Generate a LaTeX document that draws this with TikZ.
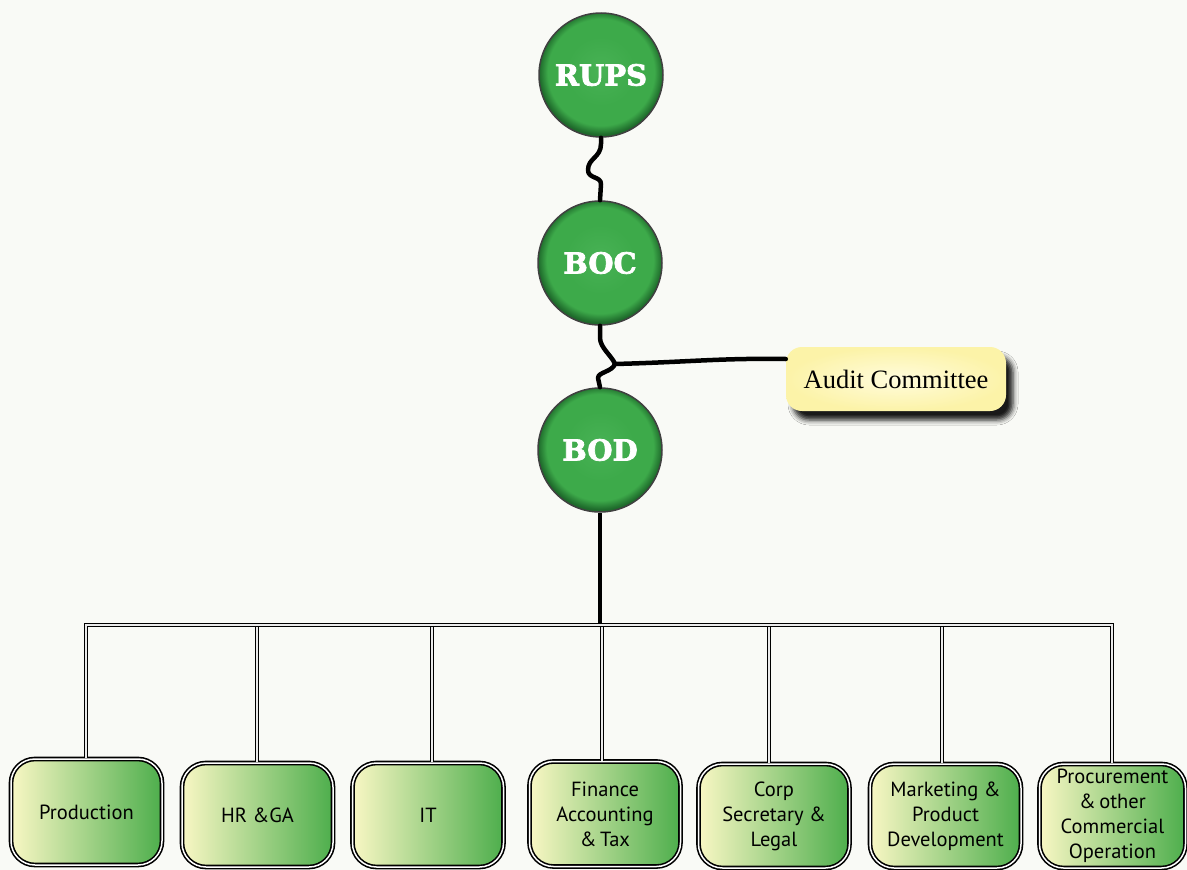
\documentclass[tikz,border=0pt]{standalone}
\usepackage{fontspec}
\setmainfont{Liberation Serif}
\newfontfamily\boxfont{PT Sans}
\newfontfamily\circfont{DejaVu Serif}[BoldFeatures={FakeBold=2.5}]
\usetikzlibrary{shadows.blur}

\definecolor{bg}{HTML}{F9FAF6}
\definecolor{cgreen}{HTML}{3DAA4A}
\definecolor{clight}{HTML}{48B255}
\definecolor{cdark}{HTML}{1E6A2B}
\definecolor{boxyellow}{HTML}{F9F7C4}
\definecolor{boxgreen}{HTML}{4DAE4C}
\definecolor{auditin}{HTML}{FFFCDC}
\definecolor{auditout}{HTML}{FCF3A8}

\pgfdeclareradialshading{orb}{\pgfpoint{0bp}{2bp}}{color(0bp)=(clight); color(14bp)=(cgreen); color(21.5bp)=(cgreen); color(25bp)=(cdark); color(50bp)=(cdark)}

\tikzset{
  orbnode/.style={circle, minimum size=124pt, inner sep=0pt, shading=orb, draw=black!75, line width=1.5pt,
    text=white, font=\circfont\bfseries\fontsize{29}{31}\selectfont},
  wire/.style={line width=4.5pt, line cap=round, line join=round},
  bus/.style={draw=black, line width=1.6pt, double=white!92!black, double distance=1.6pt},
  deptbox/.style={rounded corners=24pt, minimum width=151pt, minimum height=104pt, align=center,
    font=\boxfont\fontsize{20.5}{25}\selectfont, left color=boxyellow, right color=boxgreen,
    draw=black, line width=1.6pt, double=white, double distance=1.5pt},
  auditbox/.style={rounded corners=16pt, minimum width=220pt, minimum height=64pt,
    inner color=auditin, outer color=auditout, font=\fontsize{26.5}{28}\selectfont,
    blur shadow={shadow xshift=7pt, shadow yshift=-9pt, shadow blur radius=5pt, shadow opacity=90}}
}

\begin{document}
\begin{tikzpicture}[x=1pt, y=-1pt]
\fill[bg] (0,0) rectangle (1187,870);
\useasboundingbox (0,0) rectangle (1187,870);

% circles
\node[orbnode] (rups) at (601,75) {RUPS};
\node[orbnode] (boc) at (600,263) {BOC};
\node[orbnode] (bod) at (600,450) {BOD};

% audit committee
\node[auditbox] (audit) at (896,379) {Audit Committee};

% departments
\node[deptbox, minimum height=106pt] (prod) at (86.5,812) {Production};
\node[deptbox] (hr) at (257.5,815) {HR \&GA};
\node[deptbox] (it) at (428,815) {IT};
\node[deptbox, minimum height=105pt] (fin) at (605,814) {Finance\\Accounting\\\&\,Tax};
\node[deptbox] (corp) at (774,816) {Corp\\Secretary \&\\Legal};
\node[deptbox] (mkt) at (945.5,816) {Marketing \&\\Product\\Development};
\node[deptbox, minimum width=146pt] (proc) at (1112.5,816) {Procurement\\\&\,other\\Commercial\\Operation};

% wavy connectors
\draw[wire] (rups.south) -- ++(0,6) .. controls +(0,14) and +(0,-12) .. (588,170)
  .. controls +(0,9) and +(0,-8) .. (601,184) -- (boc.north);
\coordinate (j) at (615,364);
\draw[wire] (boc.south) -- ++(0,12) .. controls +(0,10) and +(-3,-8) .. (j)
  .. controls +(-3,8) and +(0,-6) .. (598,378) -- (bod.north);
\draw[wire] (j) .. controls (690,362) and (720,358) .. ([yshift=20pt]audit.west);

% trunk to bus
\coordinate (t) at (600,625);
\draw[wire, line cap=butt] (bod.south) -- (t);

% bus and drops
\coordinate (b1) at (86,625);
\coordinate (b2) at (257,625);
\coordinate (b3) at (432,625);
\coordinate (b4) at (602,625);
\coordinate (b5) at (769,625);
\coordinate (b6) at (942,625);
\coordinate (b7) at (1112,625);
\draw[bus] (b2) -- (b2 |- hr.north);
\draw[bus] (b3) -- (b3 |- it.north);
\draw[bus] (b4) -- (b4 |- fin.north);
\draw[bus] (b5) -- (b5 |- corp.north);
\draw[bus] (b6) -- (b6 |- mkt.north);
\draw[bus] (b1 |- prod.north) -- (b1) -- (b7) -- (b7 |- proc.north);
\end{tikzpicture}
\end{document}
